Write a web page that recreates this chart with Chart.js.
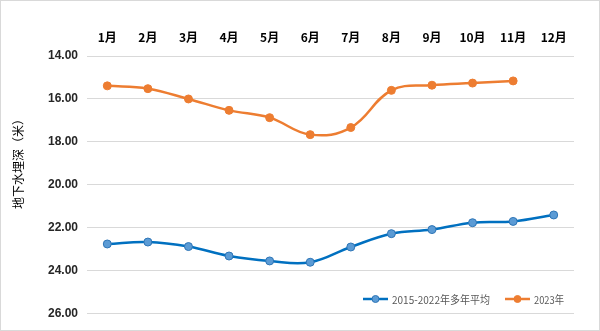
<!DOCTYPE html>
<html>
<head>
<meta charset="utf-8">
<script src="https://cdn.jsdelivr.net/npm/chart.js@4.4.1/dist/chart.umd.min.js"></script>
<style>
  html, body { margin: 0; padding: 0; background: #fff; }
  #wrap { position: relative; width: 598px; height: 329px; border: 1px solid #d9d9d9; }
</style>
</head>
<body>
<div id="wrap"><canvas id="chart"></canvas></div>
<script>
// 월 라벨과 두 계열 값
const months = ['1月', '2月', '3月', '4月', '5月', '6月', '7月', '8月', '9月', '10月', '11月', '12月'];
const avgDepth = [22.75, 22.66, 22.87, 23.31, 23.54, 23.60, 22.89, 22.27, 22.08, 21.76, 21.70, 21.40];
const depth2023 = [15.39, 15.52, 16.00, 16.53, 16.87, 17.66, 17.33, 15.60, 15.36, 15.26, 15.16, null];
const yTicks = [14, 16, 18, 20, 22, 24, 26];

const FONT = '"Liberation Sans", "Noto Sans CJK SC", sans-serif';

// 차트 영역 안쪽 오른쪽 아래에 범례를 그림
const innerLegend = {
    id: 'innerLegend',
    afterDraw(chart) {
        const ctx = chart.ctx;
        const y = 298;
        const items = [
            { ds: chart.data.datasets[0], x: 362, w: 98 },
            { ds: chart.data.datasets[1], x: 504, w: 30 }
        ];
        ctx.save();
        ctx.font = '11px "Noto Sans CJK SC", sans-serif';
        ctx.textBaseline = 'middle';
        items.forEach(it => {
            ctx.strokeStyle = it.ds.borderColor;
            ctx.lineWidth = 2.5;
            ctx.beginPath();
            ctx.moveTo(it.x, y);
            ctx.lineTo(it.x + 25, y);
            ctx.stroke();
            ctx.fillStyle = it.ds.pointBackgroundColor;
            ctx.strokeStyle = it.ds.pointBorderColor;
            ctx.lineWidth = 1;
            ctx.beginPath();
            ctx.arc(it.x + 12.5, y, 3.5, 0, Math.PI * 2);
            ctx.fill();
            ctx.stroke();
            ctx.fillStyle = '#595959';
            ctx.fillText(it.ds.label, it.x + 29, y + 0.5, it.w);
        });
        ctx.restore();
    }
};

new Chart(document.getElementById('chart'), {
    type: 'line',
    data: {
        labels: months,
        datasets: [{
            label: '2015-2022年多年平均',
            data: avgDepth,
            borderColor: '#0070C0',
            backgroundColor: '#0070C0',
            pointBackgroundColor: '#5B9BD5',
            pointBorderColor: '#2E75B6',
            borderWidth: 2.5,
            pointRadius: 4,
            pointBorderWidth: 1,
            tension: 0.4
        }, {
            label: '2023年',
            data: depth2023,
            borderColor: '#ED7D31',
            backgroundColor: '#ED7D31',
            pointBackgroundColor: '#ED7D31',
            pointBorderColor: '#ED7D31',
            borderWidth: 2.5,
            pointRadius: 4,
            pointBorderWidth: 1,
            tension: 0.4
        }]
    },
    options: {
        responsive: true,
        maintainAspectRatio: false,
        animation: false,
        layout: { padding: { left: 0, right: 25, top: 0, bottom: 16 } },
        plugins: {
            legend: { display: false },
            tooltip: { enabled: false }
        },
        scales: {
            x: {
                position: 'top',
                offset: true,
                grid: { display: false, drawTicks: false },
                border: { display: false },
                ticks: {
                    padding: 11,
                    color: '#000',
                    maxRotation: 0,
                    font: { family: '"Noto Sans CJK SC", sans-serif', size: 12, weight: 'bold' }
                },
                afterFit: scale => { scale.height = 55; }
            },
            y: {
                reverse: true,
                min: 14,
                max: 26,
                afterBuildTicks: scale => { scale.ticks = yTicks.map(v => ({ value: v })); },
                grid: { color: '#d9d9d9', lineWidth: 1, drawTicks: false },
                border: { display: false },
                ticks: {
                    padding: 9,
                    color: '#262626',
                    font: { family: FONT, size: 12, weight: 'bold' },
                    callback: v => Number(v).toFixed(2)
                },
                title: {
                    display: true,
                    text: '\u3000\u3000\u3000\u3000地下水埋深（米）',
                    color: '#000',
                    padding: { top: 10, bottom: 0 },
                    font: { family: '"Noto Sans CJK SC", sans-serif', size: 12 }
                },
                afterFit: scale => { scale.width = 86; }
            }
        }
    },
    plugins: [innerLegend]
});
</script>
</body>
</html>
